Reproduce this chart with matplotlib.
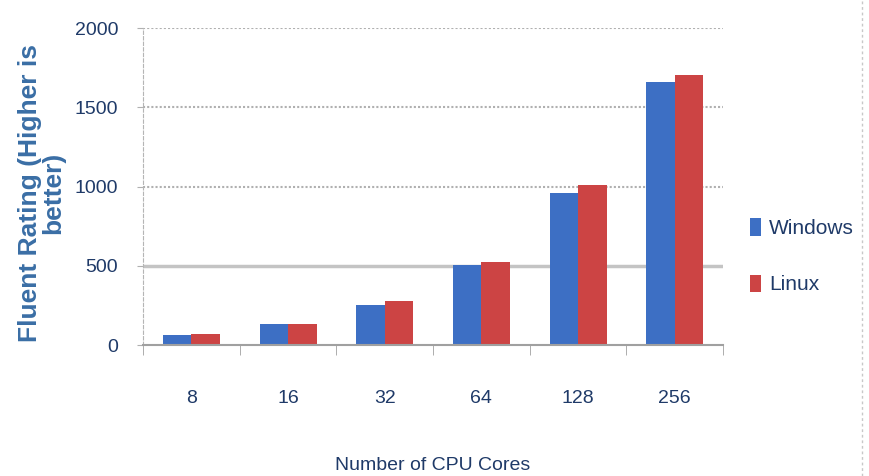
import matplotlib
matplotlib.use('Agg')
import matplotlib.pyplot as plt
import numpy as np

plt.rcParams['font.family'] = ['Liberation Sans Narrow', 'Liberation Sans', 'DejaVu Sans']

#data
cores = ['8', '16', '32', '64', '128', '256']
windows = [61, 132, 252, 505, 957, 1661]
linux = [69, 132, 278, 524, 1009, 1703]

navy = '#1f3a68'
blue = '#3d6fc4'
red = '#cc4444'

fig = plt.figure(figsize=(8.69, 4.76), dpi=100)
ax = fig.add_axes([0.1646, 0.275, 0.6674, 0.666])

x = np.arange(len(cores))
w = 0.295
ax.bar(x - w/2, windows, w, color=blue, label='Windows', zorder=3)
ax.bar(x + w/2, linux, w, color=red, label='Linux', zorder=3)

ax.set_xlim(-0.5, len(cores) - 0.5)
ax.set_ylim(0, 2000)
ax.set_yticks([0, 500, 1000, 1500, 2000])

#gridlines: 500 solid, others dotted
for yv in [1000, 1500, 2000]:
    ax.axhline(yv, color='#b0b0b0', lw=1.5, ls=(0, (1, 1)), zorder=1)
ax.axhline(500, color='#c4c4c4', lw=2.5, zorder=1)

for s in ['top', 'right']:
    ax.spines[s].set_visible(False)
ax.spines['left'].set_color('#b5b5b5')
ax.spines['left'].set_linestyle((0, (3, 2)))
ax.spines['bottom'].set_color('#a0a0a0')
ax.spines['bottom'].set_linewidth(1.5)
ax.spines['bottom'].set_zorder(4)

ax.set_xticks(x)
ax.set_xticklabels(cores, fontsize=14, color=navy)
ax.set_xticks(np.arange(-0.5, len(cores)), minor=True)
ax.tick_params(axis='x', which='major', length=0, pad=32)
ax.tick_params(axis='x', which='minor', length=7, color='#a0a0a0', direction='out')
ax.tick_params(axis='y', length=4, color='#b0b0b0', labelsize=14, labelcolor=navy, pad=14)

ax.set_xlabel('Number of CPU Cores', fontsize=14, color=navy, labelpad=36)
ax.set_ylabel('Fluent Rating (Higher is\nbetter)', fontsize=19, fontweight='bold',
              color='#3a6ea5', linespacing=0.95)
ax.yaxis.set_label_coords(-0.135, 0.48)

leg = ax.legend(loc='center left', bbox_to_anchor=(1.015, 0.28), frameon=False,
                fontsize=15, handlelength=0.5, handleheight=0.9, handletextpad=0.4,
                labelspacing=1.75, labelcolor=navy)

fig.add_artist(plt.Line2D([0.992, 0.992], [0, 1], color='#c8c8c8', lw=1, ls=(0, (2, 2))))

fig.savefig('out.png', dpi=100)
